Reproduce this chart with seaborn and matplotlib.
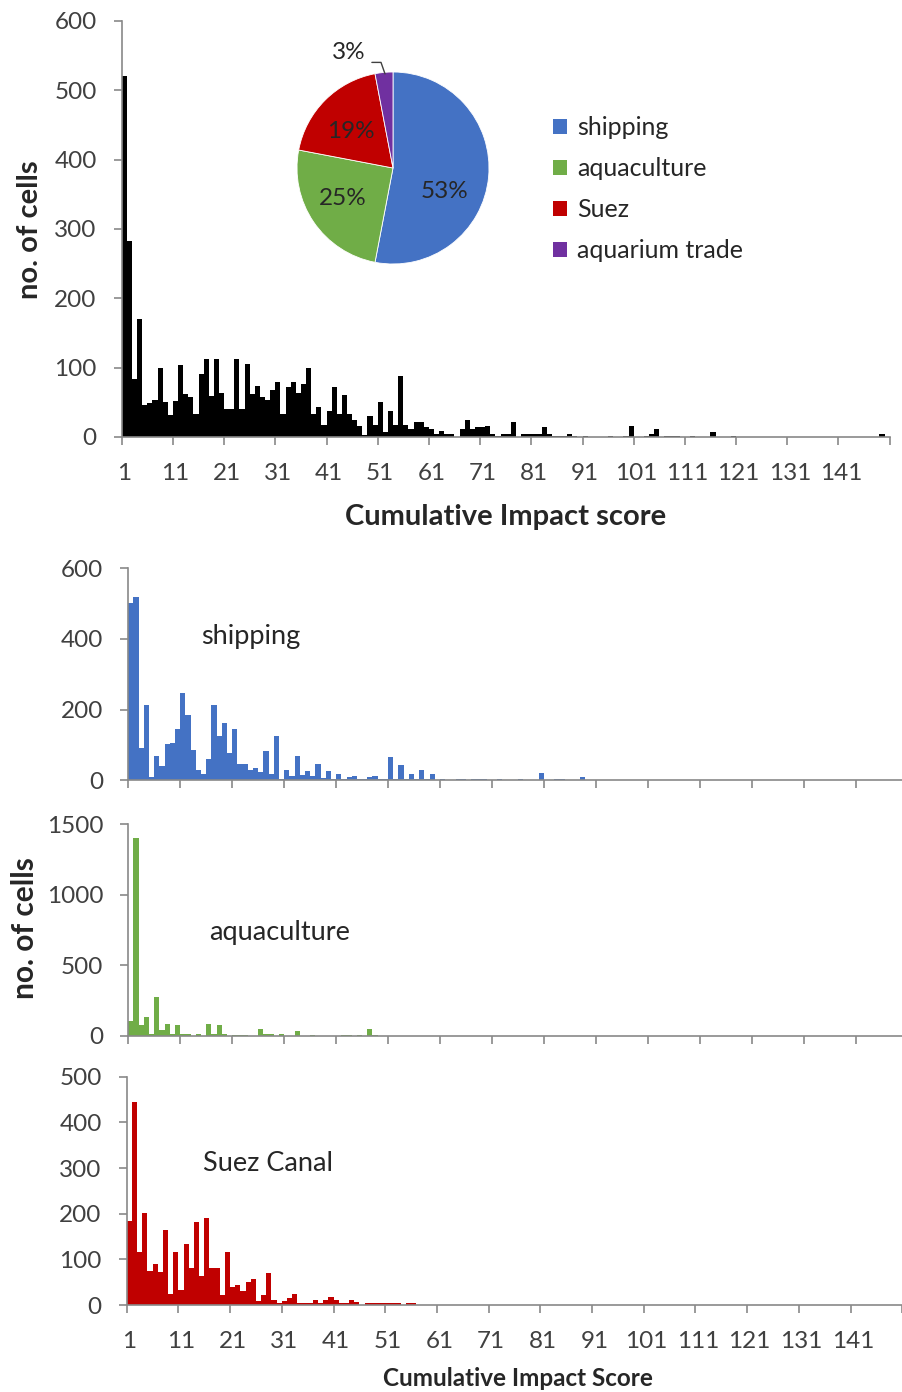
import matplotlib
matplotlib.use("Agg")
import matplotlib.pyplot as plt
import seaborn as sns
from matplotlib.patches import Patch

# impact score categories 1..150
n_bins = 150
bins = list(range(1, n_bins + 1))
tick_labels = ["1", "11", "21", "31", "41", "51", "61", "71", "81", "91",
               "101", "111", "121", "131", "141"]

# cumulative impact histogram (all pathways)
cumulative = [521, 283, 83, 170, 46, 49, 53, 99, 50, 32,
              52, 104, 62, 58, 33, 91, 112, 59, 112, 64,
              41, 41, 112, 41, 105, 62, 74, 57, 53, 68,
              79, 33, 72, 79, 63, 76, 99, 33, 43, 18,
              38, 72, 33, 61, 33, 24, 16, 3, 31, 18,
              51, 7, 38, 18, 88, 18, 11, 22, 22, 15,
              11, 5, 9, 5, 5, 0, 11, 25, 11, 15,
              15, 16, 4, 2, 4, 4, 22, 0, 4, 4,
              5, 4, 15, 4, 2, 2, 2, 5, 2, 0,
              2, 0, 0, 0, 0, 2, 0, 0, 1, 16,
              0, 0, 1, 5, 11, 0, 2, 2, 2, 0,
              0, 1, 0, 0, 0, 7, 0, 0, 0, 1,
              0, 0, 0, 0, 0, 0, 0, 0, 0, 0,
              0, 0, 0, 0, 0, 0, 0, 0, 0, 0,
              0, 0, 0, 0, 0, 0, 0, 0, 5, 0]

shipping = [501, 519, 91, 213, 8, 68, 40, 102, 106, 144,
            246, 185, 87, 28, 19, 61, 213, 124, 163, 76,
            144, 47, 47, 28, 36, 24, 82, 19, 126, 3,
            28, 11, 68, 14, 25, 11, 47, 7, 25, 5,
            18, 5, 9, 11, 4, 4, 8, 11, 4, 4,
            65, 4, 42, 4, 17, 4, 29, 4, 17, 1,
            4, 0, 0, 3, 3, 0, 3, 3, 3, 0,
            0, 3, 0, 0, 0, 3, 0, 0, 0, 22,
            0, 0, 3, 3, 0, 0, 0, 8]

aquaculture = [106, 1406, 80, 132, 12, 278, 42, 87, 17, 75,
               12, 12, 0, 12, 0, 87, 12, 75, 12, 0,
               10, 10, 10, 0, 0, 47, 12, 12, 0, 12,
               0, 0, 38, 0, 0, 10, 0, 0, 0, 0,
               0, 10, 10, 0, 10, 0, 47, 10]

suez = [185, 444, 115, 201, 75, 89, 73, 165, 25, 117,
        33, 134, 80, 182, 64, 190, 80, 80, 21, 115,
        39, 44, 30, 50, 58, 9, 21, 69, 12, 5,
        9, 16, 25, 5, 5, 5, 12, 5, 11, 18,
        12, 5, 5, 11, 7, 0, 4, 4, 4, 4,
        4, 4, 4, 0, 4, 4]

# share of impact by pathway
pathways = ["shipping", "aquaculture", "Suez", "aquarium trade"]
shares = [53, 25, 19, 3]
colors = ["#4472C4", "#70AD47", "#C00000", "#7030A0"]


def pad(vals):
    return vals + [0] * (n_bins - len(vals))


sns.set_style("white")
plt.rcParams["font.family"] = ["Lato", "DejaVu Sans"]

AXIS_GREY = "#898989"
TICK_TXT = "#404040"
FS = 17.5

fig = plt.figure(figsize=(9.02, 13.92), dpi=100)


def fig_box(left, top, right, bottom):
    W, H = 902, 1392
    return [left / W, 1 - bottom / H, (right - left) / W, (bottom - top) / H]


def draw_hist(ax, vals, color, ymax, ystep, show_labels=True):
    sns.barplot(x=bins, y=pad(vals), color=color, width=1, saturation=1,
                linewidth=0, errorbar=None, ax=ax)
    ax.set_xlim(-0.5, n_bins - 0.5)
    ax.set_ylim(0, ymax)
    ax.set_yticks(list(range(0, ymax + 1, ystep)))
    label_pos = [bins.index(int(t)) for t in tick_labels]
    ax.set_xticks(label_pos)
    ax.set_xticklabels(tick_labels if show_labels else [])
    ax.set_xticks([p - 0.5 for p in label_pos] + [n_bins - 0.5], minor=True)
    ax.tick_params(axis="x", which="major", length=0, pad=19,
                   labelsize=FS, labelcolor=TICK_TXT)
    ax.tick_params(axis="x", which="minor", length=6, width=1.2,
                   color=AXIS_GREY, bottom=True)
    ax.tick_params(axis="y", length=6, width=1.2, color=AXIS_GREY, left=True,
                   pad=12, labelsize=FS, labelcolor=TICK_TXT)
    ax.set_xlabel("")
    ax.set_ylabel("")
    sns.despine(ax=ax)
    for s in ("left", "bottom"):
        ax.spines[s].set_color(AXIS_GREY)
        ax.spines[s].set_linewidth(1.2)
    ax.patch.set_alpha(0)


# top: cumulative histogram
ax_top = fig.add_axes(fig_box(121.7, 21, 889.7, 437))
draw_hist(ax_top, cumulative, "black", 600, 100)
fig.text(30 / 902, 1 - 230 / 1392, "no. of cells", rotation=90, ha="center",
         va="center", fontsize=21, fontweight="bold")
fig.text(506 / 902, 1 - 517 / 1392, "Cumulative Impact score", ha="center",
         va="center", fontsize=21, fontweight="bold")

# pie inset
ax_pie = fig.add_axes(fig_box(297, 72, 489, 264))
wedges, _ = ax_pie.pie(shares, colors=colors, startangle=90, counterclock=False,
                       radius=1, wedgeprops=dict(edgecolor="white", linewidth=0.6))
ax_pie.set_xlim(-1, 1)
ax_pie.set_ylim(-1, 1)
pct_pos = [(0.54, -0.24), (-0.52, -0.32), (-0.44, 0.385), (-0.46, 1.2)]
for (px, py), s in zip(pct_pos, shares):
    ax_pie.text(px, py, f"{s}%", ha="center", va="center", fontsize=FS,
                clip_on=False)
ax_pie.plot([-0.22, -0.125, -0.083], [1.10, 1.10, 0.98], color="#404040",
            lw=1, clip_on=False)

handles = [Patch(facecolor=c, edgecolor="none") for c in colors]
fig.legend(handles, pathways, loc="upper left",
           bbox_to_anchor=(553 / 902, 1 - 116 / 1392), frameon=False,
           borderpad=0, borderaxespad=0,
           fontsize=18, handlelength=0.55, handleheight=0.55,
           handletextpad=0.4, labelspacing=0.72)

# bottom: per pathway
ax_s = fig.add_axes(fig_box(128.3, 568.3, 907.6, 780.3))
draw_hist(ax_s, shipping, colors[0], 600, 200, show_labels=False)
ax_s.text(0.157, 0.68, "shipping", transform=ax_s.transAxes, ha="center",
          va="center", fontsize=19.5)

ax_a = fig.add_axes(fig_box(128.3, 824.3, 907.6, 1036))
draw_hist(ax_a, aquaculture, colors[1], 1500, 500, show_labels=False)
ax_a.text(0.194, 0.49, "aquaculture", transform=ax_a.transAxes, ha="center",
          va="center", fontsize=19.5)

ax_z = fig.add_axes(fig_box(126.7, 1076.7, 902.2, 1305))
draw_hist(ax_z, suez, colors[2], 500, 100, show_labels=True)
ax_z.text(0.182, 0.62, "Suez Canal", transform=ax_z.transAxes, ha="center",
          va="center", fontsize=19.5)

fig.text(25 / 902, 1 - 928 / 1392, "no. of cells", rotation=90, ha="center",
         va="center", fontsize=21.5, fontweight="bold")
fig.text(518 / 902, 1 - 1379 / 1392, "Cumulative Impact Score", ha="center",
         va="center", fontsize=17.5, fontweight="bold")

fig.savefig("out.png", dpi=100)
